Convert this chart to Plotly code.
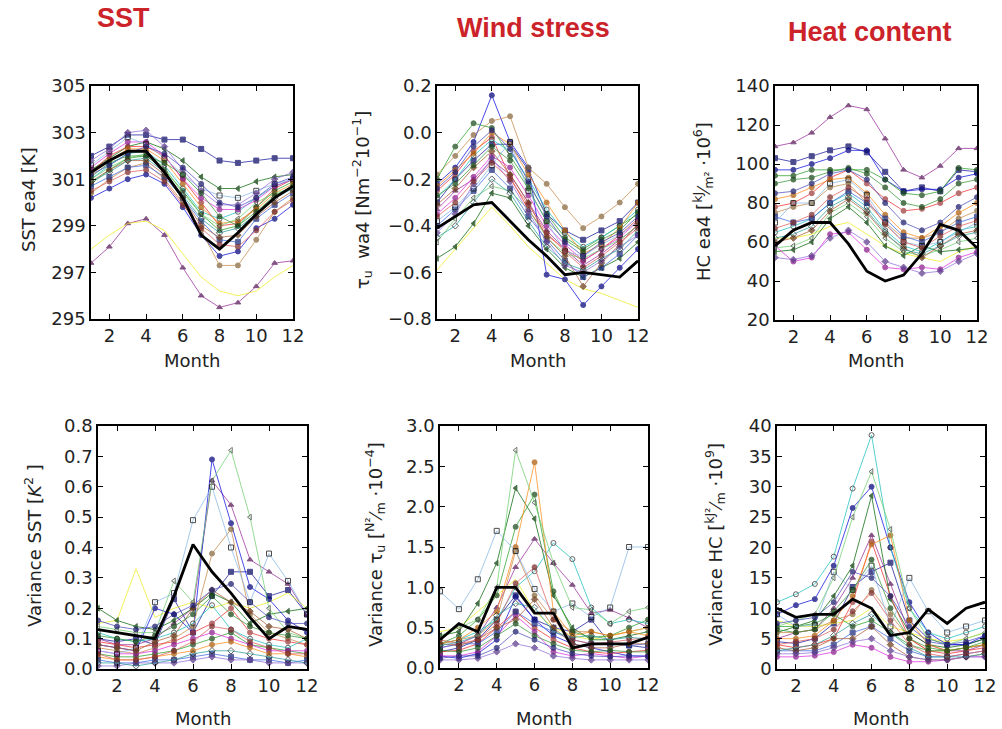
import plotly.graph_objects as go

months = [1, 2, 3, 4, 5, 6, 7, 8, 9, 10, 11, 12]

# ---------------- data: SST [K] ----------------
sst_obs = [301.3, 301.8, 302.2, 302.2, 301.3, 300.2, 298.6, 298.0, 298.7, 299.5, 300.2, 300.7]
sst_models = [
    [302.0, 302.4, 302.9, 302.9, 302.7, 302.7, 302.3, 301.8, 301.7, 301.8, 301.9, 301.9],
    [297.4, 298.1, 299.1, 299.3, 298.6, 297.2, 296.0, 295.5, 295.7, 296.4, 297.4, 297.5],
    [298.0, 298.6, 299.1, 299.2, 298.8, 297.8, 296.8, 296.2, 296.0, 296.2, 296.8, 297.3],
    [301.4, 301.9, 302.4, 302.6, 302.3, 301.8, 301.1, 300.6, 300.6, 300.9, 301.1, 301.2],
    [300.2, 300.6, 301.0, 301.2, 300.8, 299.8, 298.6, 297.7, 297.9, 298.9, 299.3, 299.9],
    [300.4, 301.0, 301.5, 301.7, 301.0, 300.0, 298.8, 297.3, 297.3, 298.4, 299.6, 300.2],
    [301.3, 302.0, 302.4, 302.4, 302.0, 301.0, 300.0, 299.0, 299.1, 299.8, 300.6, 301.0],
    [300.8, 301.4, 301.9, 302.0, 301.4, 300.5, 299.5, 298.8, 299.0, 299.8, 300.5, 300.9],
    [301.0, 301.6, 302.1, 302.2, 301.6, 300.6, 299.6, 299.3, 299.6, 300.2, 300.7, 301.0],
    [301.5, 302.1, 302.6, 302.6, 302.0, 301.0, 300.2, 299.7, 299.7, 300.1, 300.7, 301.0],
    [301.2, 301.8, 302.3, 302.3, 301.8, 300.8, 299.8, 299.1, 299.2, 299.7, 300.4, 300.8],
    [300.7, 301.1, 301.5, 301.6, 301.1, 300.2, 299.2, 298.4, 298.3, 299.3, 299.9, 300.4],
    [301.6, 302.2, 302.8, 302.5, 301.9, 301.2, 300.6, 300.3, 300.2, 300.5, 300.8, 301.0],
    [301.0, 301.5, 301.9, 302.1, 301.5, 300.4, 299.5, 299.0, 299.3, 300.0, 300.4, 300.6],
    [300.9, 301.4, 301.8, 301.8, 301.2, 300.2, 299.0, 298.5, 298.6, 299.4, 300.0, 300.5],
    [301.8, 302.3, 303.0, 303.1, 302.4, 301.4, 300.5, 299.9, 299.9, 300.4, 301.0, 301.3],
    [301.1, 301.7, 302.0, 302.0, 301.7, 301.2, 300.4, 299.4, 299.0, 299.6, 300.3, 300.7],
    [300.5, 300.9, 301.3, 301.4, 300.9, 299.9, 298.9, 298.2, 298.1, 298.8, 299.6, 300.1],
    [301.2, 301.6, 302.1, 302.4, 302.1, 301.5, 300.8, 300.0, 299.8, 300.2, 300.8, 301.1],
    [300.9, 301.3, 301.8, 301.9, 301.3, 300.3, 299.3, 298.7, 298.9, 299.5, 300.2, 300.6],
]

# ---------------- data: wind stress ----------------
wind_obs = [-0.41, -0.36, -0.31, -0.30, -0.38, -0.46, -0.53, -0.61, -0.60, -0.61, -0.62, -0.55]
wind_models = [
    [-0.30, -0.20, -0.12, -0.05, -0.05, -0.16, -0.35, -0.42, -0.46, -0.42, -0.38, -0.30],
    [-0.33, -0.25, -0.20, -0.12, -0.18, -0.30, -0.42, -0.50, -0.57, -0.52, -0.46, -0.40],
    [-0.59, -0.50, -0.41, -0.32, -0.40, -0.49, -0.56, -0.63, -0.67, -0.69, -0.72, -0.75],
    [-0.54, -0.49, -0.39, -0.26, -0.28, -0.40, -0.50, -0.58, -0.62, -0.58, -0.54, -0.47],
    [-0.22, -0.15, -0.04, 0.16, -0.04, -0.15, -0.61, -0.63, -0.74, -0.66, -0.58, -0.50],
    [-0.18, -0.10, -0.01, 0.05, 0.07, -0.15, -0.22, -0.32, -0.41, -0.36, -0.30, -0.22],
    [-0.25, -0.18, -0.08, -0.02, -0.19, -0.33, -0.44, -0.50, -0.55, -0.50, -0.44, -0.37],
    [-0.20, -0.06, 0.04, 0.02, -0.10, -0.22, -0.35, -0.45, -0.50, -0.45, -0.40, -0.35],
    [-0.28, -0.20, -0.10, -0.03, -0.08, -0.20, -0.33, -0.43, -0.49, -0.45, -0.40, -0.33],
    [-0.35, -0.28, -0.19, -0.10, -0.15, -0.27, -0.40, -0.48, -0.55, -0.50, -0.45, -0.38],
    [-0.23, -0.16, -0.09, 0.00, -0.05, -0.18, -0.30, -0.42, -0.52, -0.48, -0.41, -0.30],
    [-0.40, -0.33, -0.25, -0.16, -0.24, -0.36, -0.46, -0.55, -0.62, -0.58, -0.52, -0.44],
    [-0.38, -0.32, -0.24, -0.14, -0.04, -0.25, -0.38, -0.51, -0.53, -0.48, -0.44, -0.38],
    [-0.47, -0.37, -0.28, -0.23, -0.25, -0.33, -0.45, -0.52, -0.54, -0.50, -0.46, -0.40],
    [-0.31, -0.24, -0.15, -0.08, -0.18, -0.30, -0.45, -0.53, -0.66, -0.56, -0.48, -0.39],
    [-0.43, -0.35, -0.22, -0.11, -0.21, -0.34, -0.47, -0.57, -0.60, -0.55, -0.49, -0.44],
    [-0.27, -0.22, -0.14, -0.06, -0.12, -0.24, -0.38, -0.46, -0.51, -0.46, -0.42, -0.34],
    [-0.36, -0.30, -0.21, -0.13, -0.20, -0.31, -0.43, -0.51, -0.58, -0.53, -0.47, -0.41],
    [-0.24, -0.17, -0.06, 0.01, -0.07, -0.21, -0.36, -0.47, -0.53, -0.47, -0.43, -0.36],
    [-0.45, -0.40, -0.30, -0.20, -0.26, -0.38, -0.49, -0.56, -0.59, -0.54, -0.50, -0.42],
]

# ---------------- data: heat content ----------------
hc_obs = [58, 66, 70, 70, 59, 45, 40, 43, 54, 69, 66, 57]
hc_models = [
    [103, 101, 104, 107, 109, 106, 96, 86, 88, 86, 97, 96],
    [109, 111, 116, 124, 130, 128, 113, 97, 93, 99, 108, 108],
    [62, 62, 64, 68, 70, 64, 58, 54, 52, 50, 55, 58],
    [55, 56, 60, 72, 78, 70, 58, 53, 58, 55, 56, 57],
    [97, 97, 100, 103, 107, 107, 92, 86, 87, 87, 93, 95],
    [75, 78, 80, 88, 90, 80, 70, 62, 62, 65, 72, 76],
    [78, 80, 85, 93, 97, 90, 82, 76, 77, 80, 85, 88],
    [94, 94, 97, 97, 97, 97, 92, 85, 84, 86, 98, 97],
    [65, 68, 72, 80, 85, 78, 66, 58, 55, 60, 66, 68],
    [58, 50, 52, 64, 65, 56, 47, 46, 47, 46, 52, 55],
    [82, 84, 88, 92, 93, 85, 74, 65, 62, 68, 75, 80],
    [73, 70, 72, 80, 86, 80, 72, 63, 60, 65, 70, 73],
    [70, 80, 80, 90, 92, 84, 70, 60, 58, 60, 65, 70],
    [57, 58, 62, 75, 80, 73, 62, 55, 53, 56, 60, 62],
    [60, 62, 66, 76, 82, 75, 64, 57, 52, 58, 64, 66],
    [52, 51, 53, 62, 66, 60, 50, 47, 44, 45, 50, 54],
    [90, 92, 93, 96, 98, 95, 88, 80, 78, 82, 90, 92],
    [67, 70, 74, 83, 88, 82, 69, 60, 57, 63, 68, 71],
    [85, 86, 90, 95, 97, 92, 80, 70, 66, 70, 78, 83],
    [62, 64, 68, 78, 83, 76, 65, 56, 54, 58, 63, 65],
]

# ---------------- data: variance SST ----------------
vsst_obs = [0.13, 0.12, 0.11, 0.10, 0.24, 0.41, 0.32, 0.25, 0.17, 0.10, 0.14, 0.13]
vsst_models = [
    [0.10, 0.09, 0.10, 0.08, 0.23, 0.12, 0.24, 0.32, 0.32, 0.24, 0.26, 0.18],
    [0.10, 0.08, 0.08, 0.10, 0.15, 0.20, 0.62, 0.54, 0.36, 0.32, 0.28, 0.18],
    [0.15, 0.16, 0.33, 0.17, 0.20, 0.22, 0.20, 0.22, 0.20, 0.22, 0.25, 0.20],
    [0.20, 0.16, 0.14, 0.13, 0.16, 0.20, 0.25, 0.22, 0.15, 0.18, 0.19, 0.20],
    [0.08, 0.07, 0.06, 0.20, 0.18, 0.12, 0.69, 0.48, 0.27, 0.23, 0.16, 0.12],
    [0.07, 0.06, 0.05, 0.07, 0.10, 0.14, 0.38, 0.46, 0.18, 0.12, 0.10, 0.08],
    [0.09, 0.08, 0.07, 0.08, 0.09, 0.12, 0.15, 0.20, 0.12, 0.10, 0.09, 0.08],
    [0.05, 0.04, 0.04, 0.05, 0.06, 0.08, 0.10, 0.12, 0.08, 0.07, 0.06, 0.05],
    [0.12, 0.10, 0.09, 0.10, 0.12, 0.15, 0.21, 0.13, 0.10, 0.08, 0.07, 0.10],
    [0.06, 0.05, 0.05, 0.06, 0.08, 0.10, 0.12, 0.10, 0.08, 0.06, 0.06, 0.06],
    [0.04, 0.03, 0.03, 0.04, 0.05, 0.06, 0.08, 0.09, 0.07, 0.05, 0.05, 0.04],
    [0.03, 0.02, 0.02, 0.03, 0.03, 0.04, 0.05, 0.04, 0.03, 0.03, 0.02, 0.03],
    [0.06, 0.05, 0.07, 0.22, 0.25, 0.49, 0.60, 0.40, 0.22, 0.38, 0.29, 0.18],
    [0.14, 0.13, 0.12, 0.12, 0.29, 0.22, 0.62, 0.72, 0.50, 0.20, 0.12, 0.10],
    [0.08, 0.07, 0.06, 0.09, 0.11, 0.20, 0.26, 0.22, 0.19, 0.14, 0.13, 0.10],
    [0.01, 0.01, 0.02, 0.02, 0.02, 0.03, 0.04, 0.03, 0.03, 0.02, 0.02, 0.02],
    [0.11, 0.10, 0.09, 0.11, 0.14, 0.18, 0.24, 0.18, 0.14, 0.12, 0.11, 0.10],
    [0.05, 0.03, 0.03, 0.04, 0.06, 0.09, 0.14, 0.13, 0.09, 0.07, 0.05, 0.05],
    [0.16, 0.14, 0.13, 0.14, 0.18, 0.21, 0.26, 0.28, 0.22, 0.17, 0.15, 0.15],
    [0.02, 0.02, 0.01, 0.02, 0.03, 0.05, 0.06, 0.06, 0.05, 0.04, 0.03, 0.02],
]

# ---------------- data: variance wind stress ----------------
vwind_obs = [0.35, 0.55, 0.45, 1.00, 1.00, 0.68, 0.68, 0.25, 0.30, 0.30, 0.30, 0.38]
vwind_models = [
    [0.20, 0.25, 0.35, 0.60, 0.90, 0.60, 0.50, 0.45, 0.60, 0.30, 0.28, 0.25],
    [0.25, 0.30, 0.40, 0.75, 1.25, 1.60, 1.30, 1.03, 0.68, 0.72, 0.62, 0.50],
    [0.45, 0.50, 0.70, 0.90, 1.10, 0.70, 0.50, 0.40, 0.35, 0.40, 0.45, 0.50],
    [0.40, 0.45, 0.80, 1.30, 2.23, 1.85, 0.90, 0.50, 0.35, 0.35, 0.40, 0.45],
    [0.15, 0.12, 0.18, 0.35, 0.88, 0.60, 0.40, 0.30, 0.25, 0.20, 0.15, 0.15],
    [0.30, 0.35, 0.40, 0.60, 1.45, 0.90, 0.60, 0.45, 0.45, 0.40, 0.45, 0.50],
    [0.20, 0.22, 0.30, 0.50, 0.70, 0.50, 0.35, 0.25, 0.20, 0.18, 0.20, 0.22],
    [0.30, 0.40, 0.60, 0.90, 1.75, 2.15, 0.95, 0.45, 0.38, 0.40, 0.50, 0.60],
    [0.30, 0.35, 0.45, 0.60, 1.00, 1.20, 1.55, 1.35, 0.75, 0.55, 0.60, 0.55],
    [0.15, 0.15, 0.20, 0.40, 0.65, 0.45, 0.20, 0.15, 0.18, 0.15, 0.12, 0.15],
    [0.30, 0.35, 0.50, 0.70, 1.50, 2.55, 0.70, 0.40, 0.45, 0.40, 0.45, 0.40],
    [0.25, 0.30, 0.30, 0.45, 0.70, 0.55, 0.45, 0.35, 0.30, 0.30, 0.28, 0.30],
    [0.95, 0.73, 1.10, 1.70, 1.45, 0.98, 0.70, 0.80, 0.63, 0.75, 1.50, 1.50],
    [0.40, 0.50, 0.60, 1.00, 2.70, 2.05, 1.30, 0.75, 0.72, 0.55, 0.70, 0.75],
    [0.30, 0.28, 0.35, 0.50, 0.60, 0.85, 0.50, 0.30, 0.25, 0.25, 0.30, 0.30],
    [0.10, 0.10, 0.12, 0.20, 0.30, 0.25, 0.15, 0.12, 0.10, 0.10, 0.10, 0.10],
    [0.22, 0.20, 0.25, 0.40, 0.55, 0.40, 0.30, 0.22, 0.20, 0.22, 0.20, 0.20],
    [0.35, 0.30, 0.35, 0.55, 1.05, 1.25, 0.60, 0.35, 0.30, 0.32, 0.35, 0.38],
    [0.12, 0.15, 0.15, 0.25, 0.45, 0.35, 0.25, 0.18, 0.15, 0.14, 0.15, 0.14],
    [0.28, 0.32, 0.40, 0.65, 0.80, 0.75, 0.45, 0.38, 0.40, 0.35, 0.38, 0.36],
]

# ---------------- data: variance heat content ----------------
vhc_obs = [10.0, 8.5, 9.0, 9.0, 11.5, 10.0, 5.5, 6.0, 9.8, 7.5, 10.0, 11.0]
vhc_models = [
    [4.5, 4.2, 5.0, 7.5, 13.5, 16.0, 17.5, 8.0, 5.0, 4.0, 4.0, 5.0],
    [5.0, 6.0, 6.5, 10.0, 15.0, 22.0, 14.0, 6.0, 4.0, 3.0, 3.0, 4.0],
    [8.0, 7.0, 7.0, 7.5, 8.0, 10.0, 7.0, 6.0, 5.0, 4.5, 5.0, 6.0],
    [6.0, 7.0, 8.0, 12.0, 17.0, 28.5, 11.5, 6.0, 4.0, 3.5, 4.0, 5.0],
    [9.0, 10.5, 11.5, 17.0, 26.5, 30.0, 20.0, 11.0, 6.0, 4.0, 4.0, 5.5],
    [6.0, 6.0, 6.5, 8.0, 9.0, 13.0, 9.0, 5.0, 3.0, 3.0, 3.5, 4.0],
    [4.0, 3.5, 4.0, 5.0, 11.0, 21.0, 12.0, 5.0, 3.0, 2.5, 3.0, 3.5],
    [7.0, 7.0, 7.5, 9.0, 7.0, 8.0, 6.0, 4.0, 3.0, 3.0, 3.5, 4.0],
    [11.0, 12.3, 14.0, 18.5, 29.7, 38.5, 20.0, 10.0, 6.0, 5.0, 6.0, 7.0],
    [2.0, 2.0, 2.2, 2.8, 4.0, 3.5, 2.0, 1.2, 1.2, 1.5, 2.0, 2.0],
    [5.0, 5.0, 5.5, 8.0, 12.0, 20.5, 22.0, 8.0, 4.0, 3.0, 3.5, 4.0],
    [3.0, 3.0, 3.0, 4.0, 6.0, 7.0, 5.0, 3.0, 2.0, 2.0, 2.5, 3.0],
    [9.0, 7.0, 7.2, 16.0, 13.0, 17.0, 7.0, 15.0, 9.5, 6.0, 7.0, 8.0],
    [7.0, 8.0, 9.0, 15.0, 25.0, 32.5, 23.0, 10.0, 5.0, 4.0, 5.0, 6.0],
    [3.5, 3.0, 3.5, 5.0, 5.0, 7.0, 4.0, 2.0, 1.5, 1.5, 2.0, 2.5],
    [2.5, 2.5, 2.7, 3.5, 4.5, 5.0, 3.0, 2.0, 1.5, 1.5, 2.0, 2.0],
    [6.5, 6.0, 6.5, 9.5, 13.0, 18.0, 10.0, 5.0, 3.5, 3.0, 3.5, 4.5],
    [4.0, 4.5, 5.0, 6.5, 9.5, 12.5, 8.0, 4.0, 2.5, 2.0, 2.5, 3.0],
    [7.5, 8.0, 8.5, 11.0, 16.0, 15.0, 12.0, 7.0, 4.5, 4.0, 4.5, 5.5],
    [3.0, 3.5, 4.0, 5.5, 7.5, 9.0, 6.0, 3.5, 2.0, 2.0, 2.0, 2.5],
]

# ---------------- styles (one per model) ----------------
line_colors = ["#1a1aa0", "#9a2f9a", "#eeee22", "#0b6b0b", "#1010e0", "#c98a4a",
               "#f03030", "#2ca02c", "#20c0c0", "#e030e0", "#ff8c1a", "#4169e1",
               "#87b8e8", "#70d070", "#b0603a", "#9370db",
               "#3a9a3a", "#e06060", "#5050c0", "#30a0a0"]
marker_symbols = ["square", "triangle-up", None, "triangle-left", "circle", "circle",
                  "circle", "circle", "circle-open", "circle", "circle", "square",
                  "square-open", "triangle-left-open", "diamond", "diamond",
                  "circle", "circle", "circle", "diamond-open"]
marker_colors = ["#10106a", "#5a1a5a", None, "#0a400a", "#0a0a80", "#8a6a40",
                 "#a04040", "#205020", "#303030", "#902090", "#b06010", "#203080",
                 "#111111", "#444444", "#704020", "#604090",
                 "#1a4a1a", "#803030", "#202070", "#303030"]

panels = [
    dict(models=sst_models, obs=sst_obs, x=(91, 293), y=(86, 319), rng=[295, 305], dt=2, t0=295, fmt="d",
         ylab="SST ea4 [K]", ylx=28, yly=200),
    dict(models=wind_models, obs=wind_obs, x=(437, 638), y=(86, 319), rng=[-0.8, 0.2], dt=0.2, t0=-0.8, fmt=".1f",
         ylab="τ<sub>u</sub>  wa4 [Nm<sup>−2</sup>10<sup>−1</sup>]", ylx=362, yly=200),
    dict(models=hc_models, obs=hc_obs, x=(775, 977), y=(86, 320), rng=[20, 140], dt=20, t0=20, fmt="d",
         ylab="HC ea4 [<sup>kJ</sup>⁄<sub>m²</sub> ·10<sup>6</sup>]", ylx=703, yly=202),
    dict(models=vsst_models, obs=vsst_obs, x=(98, 307), y=(426, 669), rng=[0, 0.8], dt=0.1, t0=0, fmt=".1f",
         ylab="Variance SST [<i>K</i><sup>2</sup> ]", ylx=33, yly=546),
    dict(models=vwind_models, obs=vwind_obs, x=(440, 648), y=(426, 668), rng=[0, 3.0], dt=0.5, t0=0, fmt=".1f",
         ylab="Variance τ<sub>u</sub> [<sup>N²</sup>⁄<sub>m</sub> ·10<sup>−4</sup>]", ylx=375, yly=545),
    dict(models=vhc_models, obs=vhc_obs, x=(777, 985), y=(426, 669), rng=[0, 40], dt=5, t0=0, fmt="d",
         ylab="Variance HC [<sup>kJ²</sup>⁄<sub>m</sub> ·10<sup>9</sup>]", ylx=715, yly=545),
]

titles = [("SST", 123, 18), ("Wind stress", 533, 28), ("Heat content", 870, 32)]

W, H = 1002, 729
fig = go.Figure()
annotations = []
font_fam = "DejaVu Sans"

for i, p in enumerate(panels):
    k = "" if i == 0 else str(i + 1)
    xa, ya = "x" + k, "y" + k
    for j, ys in enumerate(p["models"]):
        sym = marker_symbols[j]
        fig.add_trace(go.Scatter(
            x=months, y=ys, xaxis=xa, yaxis=ya, showlegend=False,
            mode="lines" if sym is None else "lines+markers",
            line=dict(color=line_colors[j], width=1.0),
            opacity=0.75,
            marker=dict(symbol=sym or "circle", size=5,
                        color=marker_colors[j] or line_colors[j],
                        line=dict(color=marker_colors[j] or line_colors[j], width=1)),
        ))
    fig.add_trace(go.Scatter(x=months, y=p["obs"], xaxis=xa, yaxis=ya, mode="lines",
                             showlegend=False, line=dict(color="black", width=2.8)))
    axis_common = dict(showline=True, linecolor="black", linewidth=1.5, mirror="allticks",
                       ticks="inside", ticklen=5, tickwidth=1.2, tickcolor="black",
                       showgrid=False, zeroline=False, automargin=False,
                       tickfont=dict(family=font_fam, size=18, color="#222"))
    fig.layout["xaxis" + k] = dict(domain=[p["x"][0] / W, p["x"][1] / W], range=[1, 12],
                                   tickmode="linear", tick0=2, dtick=2, anchor=ya, **axis_common)
    fig.layout["yaxis" + k] = dict(domain=[1 - p["y"][1] / H, 1 - p["y"][0] / H], range=p["rng"],
                                   tickmode="linear", tick0=p["t0"], dtick=p["dt"],
                                   tickformat=p["fmt"], anchor=xa, **axis_common)
    annotations.append(dict(text=p["ylab"], x=p["ylx"] / W, y=1 - p["yly"] / H, xref="paper", yref="paper",
                            textangle=-90, showarrow=False, xanchor="center", yanchor="middle",
                            font=dict(family=font_fam, size=18, color="#222")))
    my = 360 if i < 3 else 718
    annotations.append(dict(text="Month", x=(p["x"][0] + p["x"][1]) / 2 / W, y=1 - my / H,
                            xref="paper", yref="paper", showarrow=False,
                            xanchor="center", yanchor="middle",
                            font=dict(family=font_fam, size=18, color="#222")))

for t, tx, ty in titles:
    annotations.append(dict(text="<b>" + t + "</b>", x=tx / W, y=1 - ty / H, xref="paper", yref="paper",
                            showarrow=False, xanchor="center", yanchor="middle",
                            font=dict(family="Liberation Sans", size=27, color="#cc2229")))

fig.update_layout(template="none", width=W, height=H, margin=dict(l=0, r=0, t=0, b=0, autoexpand=False),
                  paper_bgcolor="white", plot_bgcolor="white", annotations=annotations)

fig.write_html("out.html", config={"displayModeBar": False},
               post_script="document.body.style.margin='0';document.body.style.padding='0';"
                           "document.body.style.overflow='hidden';")
